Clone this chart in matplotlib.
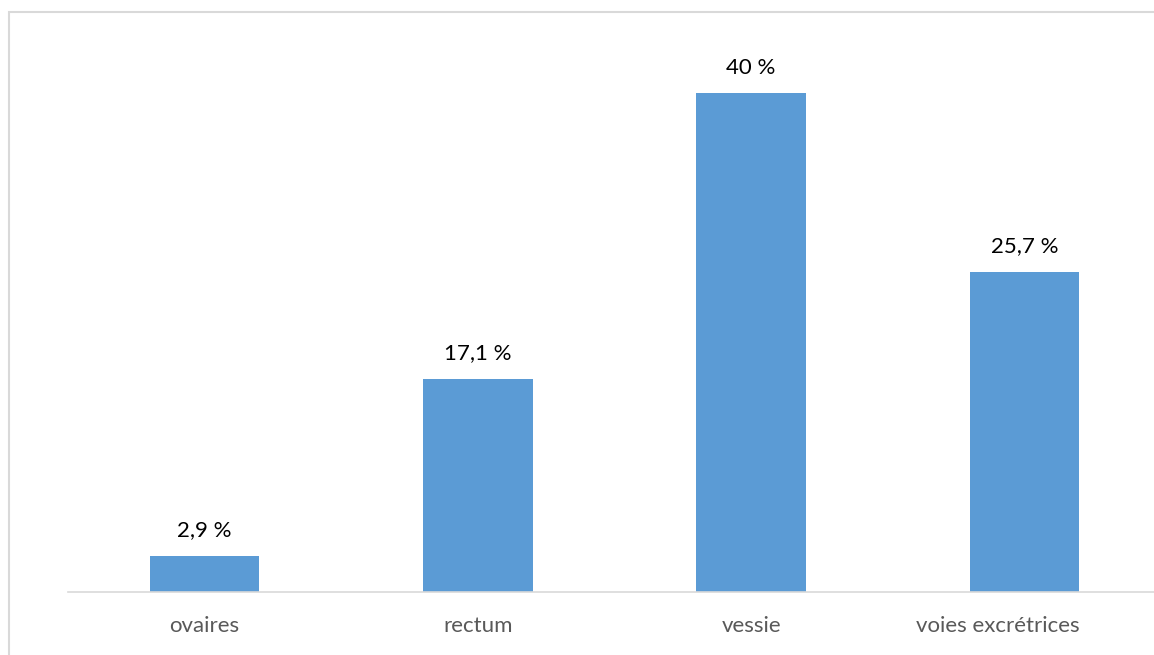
import matplotlib
matplotlib.use("Agg")
import matplotlib.pyplot as plt
import matplotlib.transforms as mtransforms
from matplotlib.patches import Rectangle

categories = ["ovaires", "rectum", "vessie", "voies excrétrices"]
values = [2.9, 17.1, 40.0, 25.7]
value_labels = ["2,9 %", "17,1 %", "40 %", "25,7 %"]

plt.rcParams['font.family'] = ['Lato', 'DejaVu Sans']

W, H = 1154, 655
fig = plt.figure(figsize=(W / 100, H / 100), dpi=100)

# outer chart border (light gray)
fig.patches.append(Rectangle((8.5 / W, -0.1), 1.2, (H - 11.5) / H + 0.1,
                             transform=fig.transFigure, fill=False,
                             edgecolor="#D9D9D9", linewidth=1.5))

left = 68 / W
width = (1161 - 68) / W
bottom = (H - 592) / H
height = 561 / H
ax = fig.add_axes([left, bottom, width, height])

x = range(len(categories))
ax.bar(x, values, width=0.4, color="#5B9BD5")
ax.set_xlim(-0.5, 3.5)
ax.set_ylim(0, 45)

for xi, v, lab in zip(x, values, value_labels):
    ax.annotate(lab, (xi, v), xytext=(0, 11), textcoords="offset points",
                ha="center", va="bottom", fontsize=16, color="#000000")

ax.set_xticks(list(x))
ax.set_xticklabels(categories, fontsize=16, color="#595959")
ax.tick_params(axis="x", length=0, pad=17)
ax.set_yticks([])
for s in ["top", "right", "left"]:
    ax.spines[s].set_visible(False)
ax.spines["bottom"].set_color("#D9D9D9")
ax.spines["bottom"].set_linewidth(1.2)

# last category label is pulled left to stay inside the chart area
last = ax.get_xticklabels()[-1]
last.set_transform(last.get_transform() +
                   mtransforms.ScaledTranslation(-27 / 100, 0, fig.dpi_scale_trans))

fig.savefig("out.png", dpi=100)
